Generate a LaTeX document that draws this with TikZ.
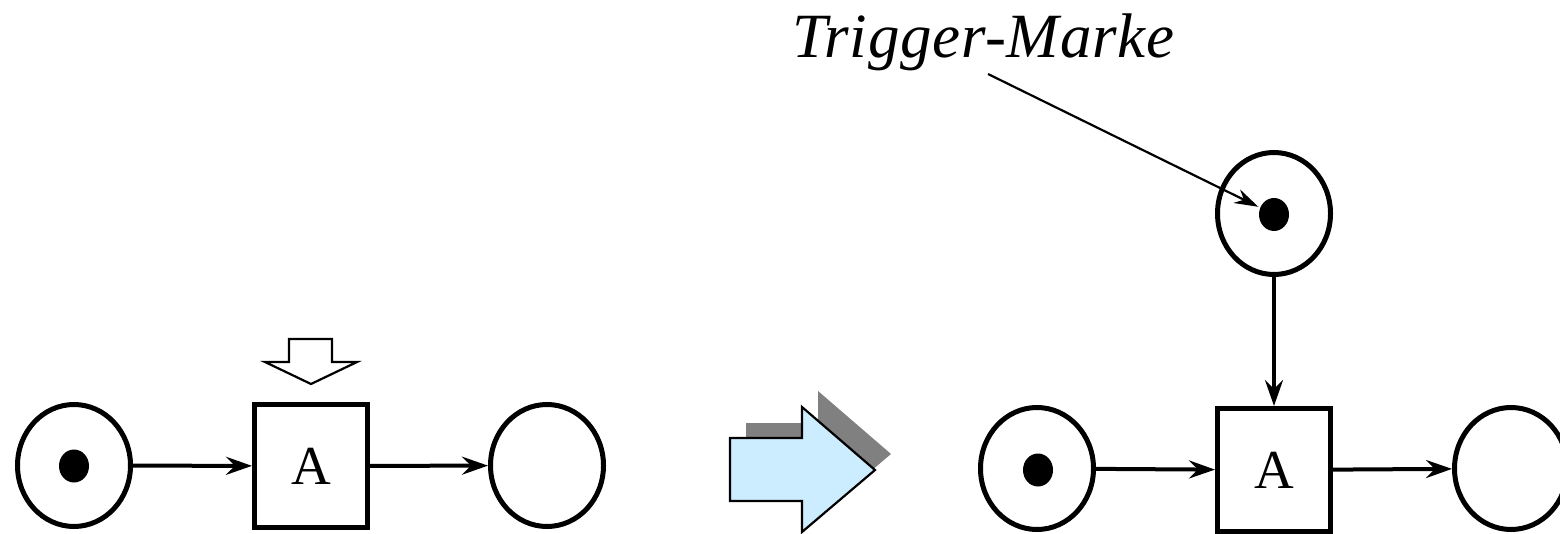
\documentclass[tikz,border=0pt]{standalone}
\usepackage{fontspec}
\setmainfont{Liberation Serif}
\newfontfamily\labelfont[LetterSpace=1.2]{Liberation Serif}
\usetikzlibrary{shapes.geometric,arrows.meta}
\definecolor{arrowblue}{HTML}{CCECFF}
\definecolor{shadowgray}{HTML}{808080}
\begin{document}
\begin{tikzpicture}[x=1pt,y=-1pt,
  place/.style={draw,ellipse,line width=5pt,minimum width=113pt,minimum height=122pt,inner sep=0pt},
  token/.style={ellipse,fill=black,minimum width=30pt,minimum height=33pt,inner sep=0pt},
  trans/.style={draw,rectangle,line width=5pt,minimum width=113pt,minimum height=123pt,inner sep=0pt,font=\fontsize{55}{60}\selectfont},
  arc/.style={line width=4pt,-{Stealth[length=26pt,width=18pt,inset=9pt]}},
  annot/.style={line width=2.2pt,-{Stealth[length=24pt,width=15pt,inset=8pt]}},
  hollow/.style={draw=black,line width=2.2pt,line join=miter,fill=white}
]
\useasboundingbox (0,0) rectangle (1560,534);
% left net
\node[place] (p1) at (74,465.5) {};
\node[token] (k1) at (74,466) {};
\node[trans] (t1) at (311,466) {A};
\node[place] (p2) at (547,465.5) {};
\draw[arc] (p1) -- (t1);
\draw[arc] (t1) -- (p2);
% small hollow down arrow
\draw[hollow] (289,339) -- (332,339) -- (332,362) -- (357,362) -- (311,384) -- (265,362) -- (289,362) -- cycle;
% big transition arrow with shadow
\fill[shadowgray] (746,423) -- (818,423) -- (818,391) -- (891,454) -- (818,516) -- (818,484) -- (746,484) -- cycle;
\draw[fill=arrowblue,line width=2.2pt,line join=miter] (730,438) -- (802,438) -- (802,407) -- (875,470) -- (802,532) -- (802,501) -- (730,501) -- cycle;
% right net
\node[place] (pT) at (1274,213.5) {};
\node[token] (kT) at (1274,214.5) {};
\node[place] (p3) at (1037,468.5) {};
\node[token] (k3) at (1038,470) {};
\node[trans] (t2) at (1274,470) {A};
\node[place] (p4) at (1511,468.5) {};
\draw[arc] (p3) -- (t2);
\draw[arc] (t2) -- (p4);
\draw[arc] (pT) -- (t2);
% label
\node[anchor=base west,inner sep=0pt,font=\labelfont\itshape\fontsize{63}{70}\selectfont] (lbl) at (792,58) {Trigger-Marke};
\coordinate (lblpt) at (988,74);
\draw[annot,shorten >=2pt] (lblpt) -- (kT);
\end{tikzpicture}
\end{document}
